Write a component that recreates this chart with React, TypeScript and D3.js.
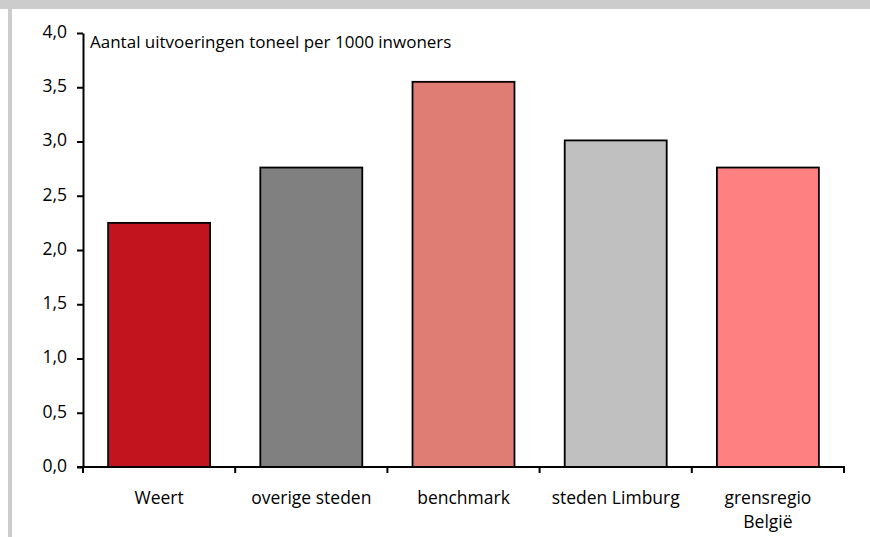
import React, { useEffect, useRef } from 'react';
import * as d3 from 'd3';

const categories = ['Weert', 'overige steden', 'benchmark', 'steden Limburg', 'grensregio België'];
const values = [2.25, 2.76, 3.55, 3.01, 2.76];
const barColors = ['#c1141f', '#808080', '#df7c73', '#c0c0c0', '#ff8080'];
const yTicks = [0, 0.5, 1, 1.5, 2, 2.5, 3, 3.5, 4];
const chartTitle = 'Aantal uitvoeringen toneel per 1000 inwoners';

const W = 870;
const H = 537;
const FONT = '"Open Sans", "Noto Sans", sans-serif';

const App: React.FC = () => {
  const svgRef = useRef<SVGSVGElement>(null);

  useEffect(() => {
    if (!svgRef.current) return;
    const svg = d3.select(svgRef.current);
    svg.selectAll('*').remove();

    // frame: gray band on top and a thin strip on the left
    svg.append('rect').attr('width', W).attr('height', H).attr('fill', '#fff');
    svg.append('rect').attr('x', 0).attr('y', 0).attr('width', W).attr('height', 9).attr('fill', '#cccccc');
    svg.append('rect').attr('x', 8).attr('y', 0).attr('width', 4).attr('height', H).attr('fill', '#cccccc');

    const left = 83;
    const right = 844;
    const top = 33;
    const bottom = 467;

    const x = d3.scaleBand<string>().domain(categories).range([left, right]).paddingInner(0.33).paddingOuter(0.165);
    const xTicksScale = d3.scaleBand<string>().domain(categories).range([left, right]);
    const y = d3.scaleLinear().domain([0, 4]).range([bottom, top]);

    // bars
    svg.append('g')
      .selectAll('rect')
      .data(values)
      .join('rect')
      .attr('x', (_, i) => x(categories[i])!)
      .attr('y', d => y(d))
      .attr('width', x.bandwidth())
      .attr('height', d => bottom - y(d))
      .attr('fill', (_, i) => barColors[i])
      .attr('stroke', '#000')
      .attr('stroke-width', 1.8);

    // y axis
    const yAxis = d3.axisLeft(y)
      .tickValues(yTicks)
      .tickFormat(d => d3.format('.1f')(d as number).replace('.', ','))
      .tickSizeInner(6)
      .tickSizeOuter(0)
      .tickPadding(10);
    const gy = svg.append('g').attr('transform', `translate(${left},0)`).call(yAxis);
    gy.select('.domain').attr('stroke', '#000').attr('stroke-width', 2);
    gy.selectAll('.tick line').attr('stroke', '#000').attr('stroke-width', 2);
    gy.selectAll('.tick text')
      .attr('fill', '#000')
      .attr('font-family', FONT)
      .attr('font-size', 17.5)
      .attr('dy', '0.25em');

    // x axis: baseline with boundary ticks between categories
    const gx = svg.append('g');
    gx.append('line')
      .attr('x1', left - 6).attr('x2', right + 1)
      .attr('y1', bottom).attr('y2', bottom)
      .attr('stroke', '#000').attr('stroke-width', 2);
    const bounds = categories.map(c => xTicksScale(c)!).concat([right]);
    gx.selectAll('line.tick')
      .data(bounds)
      .join('line')
      .attr('class', 'tick')
      .attr('x1', d => d).attr('x2', d => d)
      .attr('y1', bottom).attr('y2', bottom + 6)
      .attr('stroke', '#000').attr('stroke-width', 2);

    // category labels (wrapped)
    const labelLines = (c: string) => (c === 'grensregio België' ? ['grensregio', 'België'] : [c]);
    const lbl = gx.selectAll('text.cat')
      .data(categories)
      .join('text')
      .attr('class', 'cat')
      .attr('x', d => x(d)! + x.bandwidth() / 2)
      .attr('y', 504)
      .attr('text-anchor', 'middle')
      .attr('font-family', FONT)
      .attr('font-size', 17.5)
      .attr('fill', '#000');
    lbl.each(function (d) {
      const t = d3.select(this);
      labelLines(d).forEach((line, i) => {
        t.append('tspan')
          .attr('x', x(d)! + x.bandwidth() / 2)
          .attr('dy', i === 0 ? 0 : 24)
          .text(line);
      });
    });

    // title inside plot
    svg.append('text')
      .attr('x', 90)
      .attr('y', 48)
      .attr('font-family', FONT)
      .attr('font-size', 17)
      .attr('fill', '#000')
      .text(chartTitle);
  }, []);

  return (
    <div style={{ position: 'fixed', left: 0, top: 0 }}>
      <svg ref={svgRef} width={W} height={H} style={{ display: 'block' }} />
    </div>
  );
};

export default App;
